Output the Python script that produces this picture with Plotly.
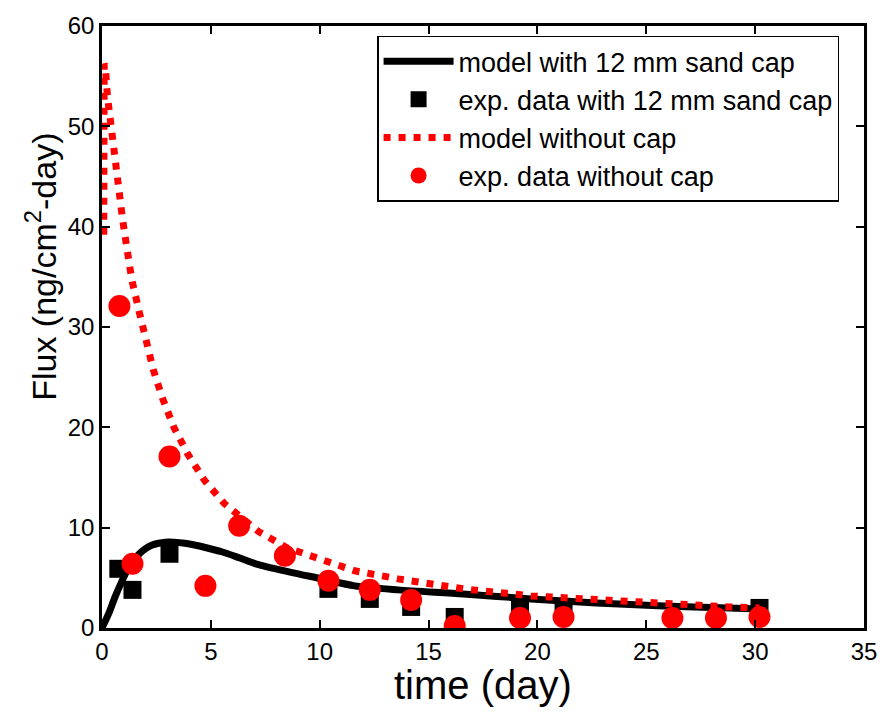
import plotly.graph_objects as go

# Model curve, 12 mm sand cap
t_model_cap = [0, 0.3, 0.6, 0.9, 1.14, 1.4, 1.67, 2.0, 2.28, 2.6, 2.89, 3.3, 3.8, 4.3, 4.7,
               5.5, 6.3, 7.06, 8.58, 10.1, 11.6, 13.6, 16.6, 19.7, 22.7, 25.8, 28.8, 30.2]
f_model_cap = [0, 1.4, 3.1, 4.6, 5.7, 6.6, 7.3, 7.9, 8.25, 8.45, 8.55, 8.55, 8.45, 8.25, 8.05,
               7.6, 7.0, 6.4, 5.6, 4.9, 4.2, 3.8, 3.4, 2.9, 2.5, 2.2, 2.0, 1.9]

# Experimental data, 12 mm sand cap
t_exp_cap = [0.75, 1.4, 3.1, 10.4, 12.3, 14.2, 16.2, 19.2, 21.2, 30.2]
f_exp_cap = [5.9, 3.8, 7.4, 3.9, 2.9, 2.1, 1.1, 2.0, 2.1, 2.0]

# Model curve, no cap
t_model_nocap = [0.08, 0.1, 0.15, 0.25, 0.4, 0.5, 0.64, 0.76, 0.94, 1.14, 1.37, 1.7, 2.0,
                 2.36, 2.78, 3.3, 3.95, 4.71, 5.62, 7.2, 8.5, 10.0, 11.6, 13.6, 16.6, 19.7,
                 22.7, 25.8, 28.8, 30.2]
f_model_nocap = [39.2, 56.2, 56.0, 53.0, 50.0, 48.3, 45.4, 43.8, 40.8, 37.9, 34.7, 31.6, 28.8,
                 25.7, 22.9, 20.0, 17.3, 14.7, 12.4, 9.6, 8.0, 6.8, 5.7, 4.9, 3.9, 3.2,
                 2.8, 2.4, 2.1, 2.0]

# Experimental data, no cap
t_exp_nocap = [0.8, 1.4, 3.1, 4.75, 6.3, 8.4, 10.4, 12.3, 14.2, 16.2, 19.2, 21.2, 26.2, 28.2, 30.2]
f_exp_nocap = [32.1, 6.4, 17.1, 4.2, 10.2, 7.2, 4.7, 3.8, 2.8, 0.2, 1.0, 1.1, 1.0, 1.0, 1.1]

FONT = "Liberation Sans, Arial, sans-serif"

fig = go.Figure()
fig.add_trace(go.Scatter(x=t_model_cap, y=f_model_cap, mode="lines",
                         line=dict(color="black", width=7, shape="spline", smoothing=0.8),
                         name="model with 12 mm sand cap"))
fig.add_trace(go.Scatter(x=t_exp_cap, y=f_exp_cap, mode="markers",
                         marker=dict(symbol="square", size=18, color="black"),
                         name="exp. data with 12 mm sand cap"))
fig.add_trace(go.Scatter(x=t_model_nocap, y=f_model_nocap, mode="lines",
                         line=dict(color="#ff0000", width=7, dash="7px,8px"),
                         name="model without cap"))
fig.add_trace(go.Scatter(x=t_exp_nocap, y=f_exp_nocap, mode="markers",
                         marker=dict(symbol="circle", size=22, color="#ff0000"),
                         name="exp. data without cap"))

axis_common = dict(
    showline=True, linecolor="black", linewidth=2.5, mirror="ticks",
    ticks="inside", ticklen=8, tickwidth=1.5, tickcolor="black",
    showgrid=False, zeroline=False,
    tickfont=dict(family=FONT, size=24, color="black"),
)

fig.update_layout(
    width=889, height=713,
    margin=dict(l=102, r=23, t=19, b=85),
    paper_bgcolor="white", plot_bgcolor="white",
    font=dict(family=FONT, color="black"),
    xaxis=dict(range=[0, 35], dtick=5, tick0=0, **axis_common),
    yaxis=dict(range=[0, 60], dtick=10, tick0=0, **axis_common),
    legend=dict(x=0.361, y=0.984, xanchor="left", yanchor="top",
                bgcolor="white", bordercolor="black", borderwidth=1.5,
                font=dict(family=FONT, size=27, color="black"),
                itemwidth=70, tracegroupgap=0),
    showlegend=True,
)

# Axis titles
fig.add_annotation(text="time (day)", xref="paper", yref="paper",
                   x=0.5, y=-0.095, xanchor="center", yanchor="middle",
                   showarrow=False, font=dict(family=FONT, size=40, color="black"))
fig.add_annotation(text="Flux (ng/cm<sup>2</sup>-day)", xref="paper", yref="paper",
                   x=-0.08, y=0.6, xanchor="center", yanchor="middle", textangle=-90,
                   showarrow=False, font=dict(family=FONT, size=34, color="black"))

fig.write_html("out.html")
